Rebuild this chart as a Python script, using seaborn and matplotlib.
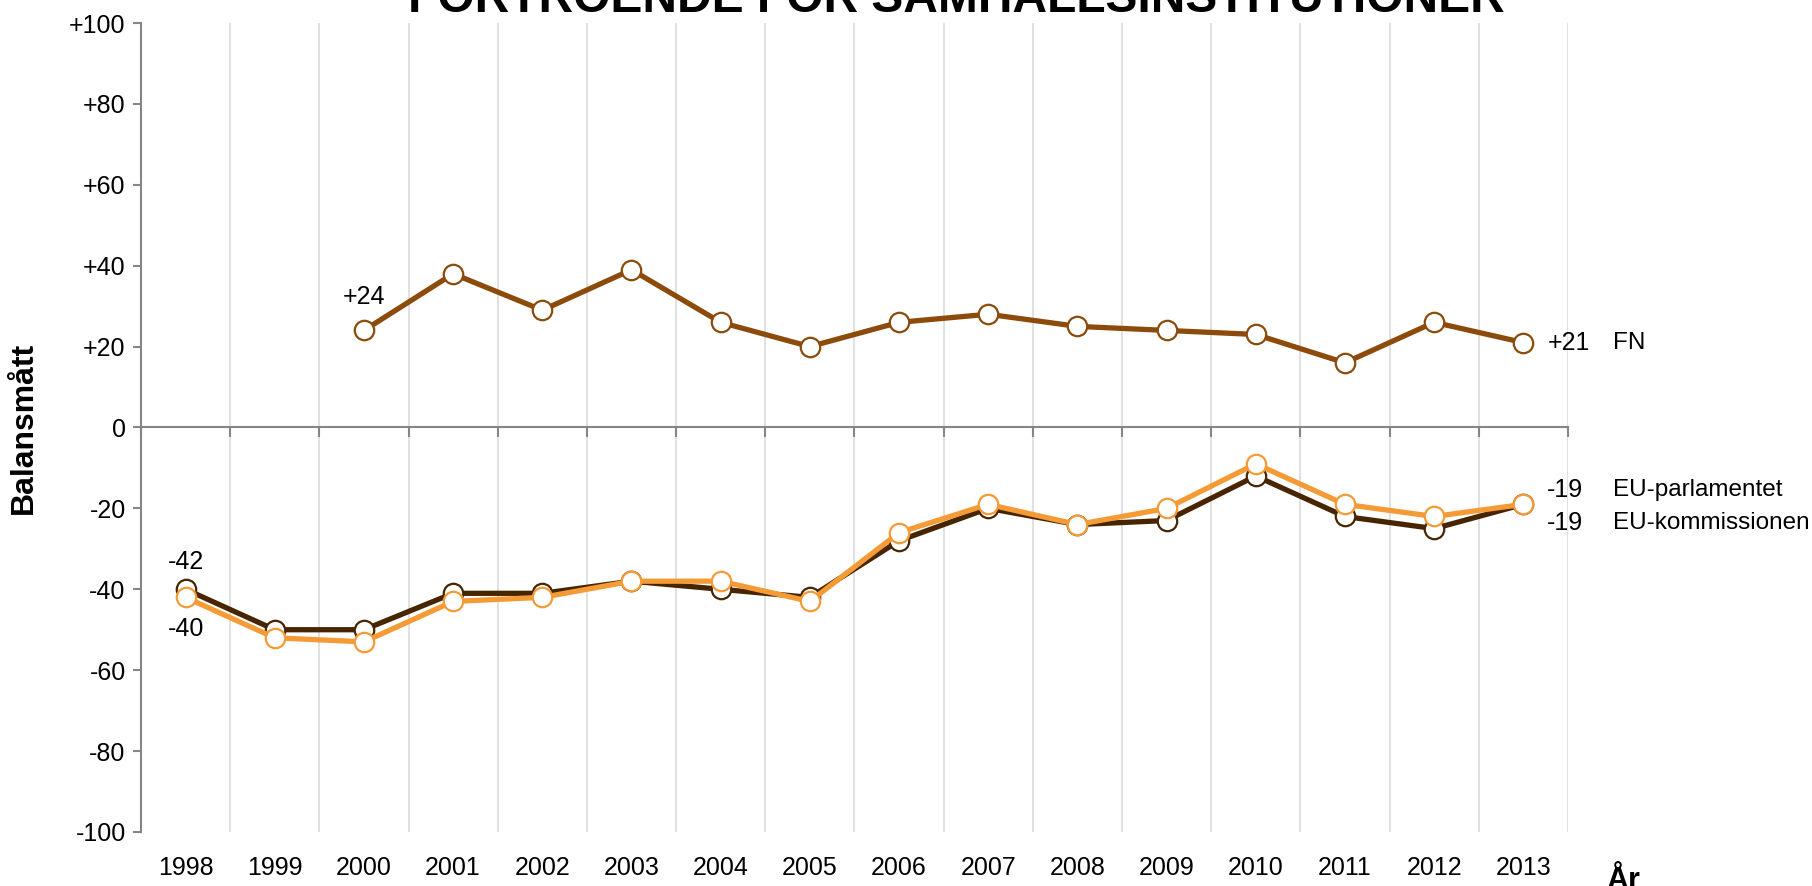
import numpy as np
import pandas as pd
import matplotlib
matplotlib.use('Agg')
import matplotlib.pyplot as plt
from matplotlib.ticker import FuncFormatter
import seaborn as sns

# data
years = list(range(1998, 2014))
fn = [np.nan, np.nan, 24, 38, 29, 39, 26, 20, 26, 28, 25, 24, 23, 16, 26, 21]
eu_komm = [-40, -50, -50, -41, -41, -38, -40, -42, -28, -20, -24, -23, -12, -22, -25, -19]
eu_parl = [-42, -52, -53, -43, -42, -38, -38, -43, -26, -19, -24, -20, -9, -19, -22, -19]
series_names = ['FN', 'EU-kommissionen', 'EU-parlamentet']
end_labels = ['+21', '-19', '-19']

colors = {'FN': '#8c4a0b', 'EU-kommissionen': '#472500', 'EU-parlamentet': '#f59b36'}
gray = '#868686'

sns.set_style('white')
plt.rcParams['font.family'] = ['Liberation Sans', 'DejaVu Sans']
plt.rcParams['text.color'] = 'black'
plt.rcParams['xtick.color'] = 'black'
plt.rcParams['ytick.color'] = 'black'
plt.rcParams['axes.labelcolor'] = 'black'

df = pd.DataFrame({'year': years, 'FN': fn, 'EU-kommissionen': eu_komm, 'EU-parlamentet': eu_parl})

fig, ax = plt.subplots(figsize=(18.12, 8.86), dpi=100)
fig.subplots_adjust(left=0.0778, right=0.8653, top=0.974, bottom=0.061)

for name in series_names:
    c = colors[name]
    sns.lineplot(data=df, x='year', y=name, ax=ax, color=c, lw=3.8,
                 marker='o', markersize=14, markerfacecolor='white',
                 markeredgecolor=c, markeredgewidth=1.6)

ax.set_xlim(1997.5, 2013.5)
ax.set_ylim(-100, 100)
ax.set_yticks(range(-100, 101, 20))
ax.yaxis.set_major_formatter(FuncFormatter(lambda v, p: f'+{v:.0f}' if v > 0 else f'{v:.0f}'))
ax.tick_params(axis='y', labelsize=18, length=6, width=1.5, color=gray, labelcolor='black', pad=5, left=True)

# zero line with small ticks at the category boundaries
ax.spines['bottom'].set_position(('data', 0))
ax.spines['bottom'].set_color(gray)
ax.spines['bottom'].set_linewidth(1.5)
ax.spines['left'].set_color(gray)
ax.spines['left'].set_linewidth(1.5)
ax.spines['top'].set_visible(False)
ax.spines['right'].set_visible(False)
ax.set_xticks(years)
ax.set_xticks(np.arange(1997.5, 2014, 1), minor=True)
ax.tick_params(axis='x', which='major', length=0, labelbottom=False)
ax.tick_params(axis='x', which='minor', length=7, width=1.5, color=gray, direction='out', bottom=True)
ax.grid(which='minor', axis='x', color='#d9d9d9', lw=1.1)
ax.grid(which='major', visible=False)
ax.set_xlabel('')
ax.set_ylabel('Balansmått', fontsize=23, fontweight='bold', labelpad=22, color='black')

# year labels at the bottom
sec = ax.secondary_xaxis('bottom')
sec.set_xticks(years)
sec.tick_params(length=0, pad=17, labelsize=18, labelcolor='black')
sec.spines['bottom'].set_visible(False)

# point labels
ax.annotate('+24', (2000, fn[2]), xytext=(0, 33), textcoords='offset pixels',
            ha='center', va='center', fontsize=18)
ax.annotate('-42', (1998, eu_komm[0]), xytext=(0, 27), textcoords='offset pixels',
            ha='center', va='center', fontsize=18)
ax.annotate('-40', (1998, eu_parl[0]), xytext=(0, -32), textcoords='offset pixels',
            ha='center', va='center', fontsize=18)

# end labels on the right
offsets = {'FN': 0, 'EU-parlamentet': 14, 'EU-kommissionen': -19}
for name, lab in zip(series_names, end_labels):
    y_end = df[name].iloc[-1]
    dy = offsets[name]
    ax.annotate(lab, (2013, y_end), xytext=(24, dy), textcoords='offset pixels',
                ha='left', va='center', fontsize=18, annotation_clip=False)
    ax.annotate(name, (2013, y_end), xytext=(90, dy), textcoords='offset pixels',
                ha='left', va='center', fontsize=17.5, annotation_clip=False)

fig.text(0.5276, 0.9865, 'FÖRTROENDE FÖR SAMHÄLLSINSTITUTIONER', ha='center', va='baseline',
         fontsize=34.5, fontweight='bold')
fig.text(0.8957, -0.003, 'År', ha='center', va='baseline', fontsize=22, fontweight='bold')

fig.savefig('out.png', dpi=100)
